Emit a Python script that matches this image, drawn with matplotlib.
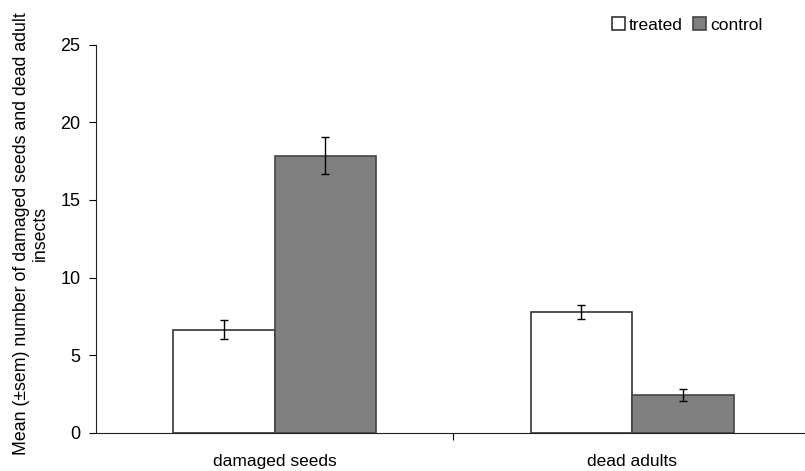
import numpy as np
import matplotlib.pyplot as plt

plt.rcParams['font.family'] = ['Liberation Sans', 'DejaVu Sans']

categories = ["damaged seeds", "dead adults"]
treated = [6.65, 7.8]
treated_err = [0.6, 0.45]
control = [17.85, 2.45]
control_err = [1.2, 0.4]

fig = plt.figure(figsize=(8.05, 4.71), dpi=100)
ax = fig.add_axes([0.119, 0.081, 0.881, 0.824])

x = np.arange(len(categories))
w = 0.284
ax.bar(x - w/2, treated, w, color="white", edgecolor="#333333", linewidth=1.2,
       label="treated", zorder=2)
ax.bar(x + w/2, control, w, color="#808080", edgecolor="#444444", linewidth=1.2,
       label="control", zorder=2)
ax.errorbar(x - w/2, treated, yerr=treated_err, fmt="none", ecolor="black",
            elinewidth=1, capsize=3, capthick=1, zorder=3)
ax.errorbar(x + w/2, control, yerr=control_err, fmt="none", ecolor="black",
            elinewidth=1, capsize=3, capthick=1, zorder=3)

ax.set_xlim(-0.5, 1.483)
ax.set_ylim(0, 25)
ax.set_yticks([0, 5, 10, 15, 20, 25])
ax.tick_params(axis="y", labelsize=13, direction="out", length=5, pad=6)
ax.set_xticks([0.5])
ax.set_xticklabels([""])
ax.tick_params(axis="x", direction="out", length=5)
# category names sit just above the bottom edge, as in the original
for xi, lab in zip(x, categories):
    ax.text(xi, -2.12, lab, ha="center", va="baseline", fontsize=12.5)

ax.spines["top"].set_visible(False)
ax.spines["right"].set_visible(False)
ax.spines["left"].set_color("#222222")
ax.spines["bottom"].set_color("#222222")

ax.set_ylabel("Mean (\u00b1sem) number of damaged seeds and dead adult\ninsects",
              fontsize=12.8, linespacing=1.15)
ax.yaxis.set_label_coords(-0.066, 0.513)

ax.legend(loc="upper right", bbox_to_anchor=(0.953, 1.093), ncol=2, frameon=False,
          fontsize=12.5, handlelength=0.75, handleheight=0.75, borderpad=0,
          handletextpad=0.25, columnspacing=0.6)

fig.savefig("out.png", dpi=100)
